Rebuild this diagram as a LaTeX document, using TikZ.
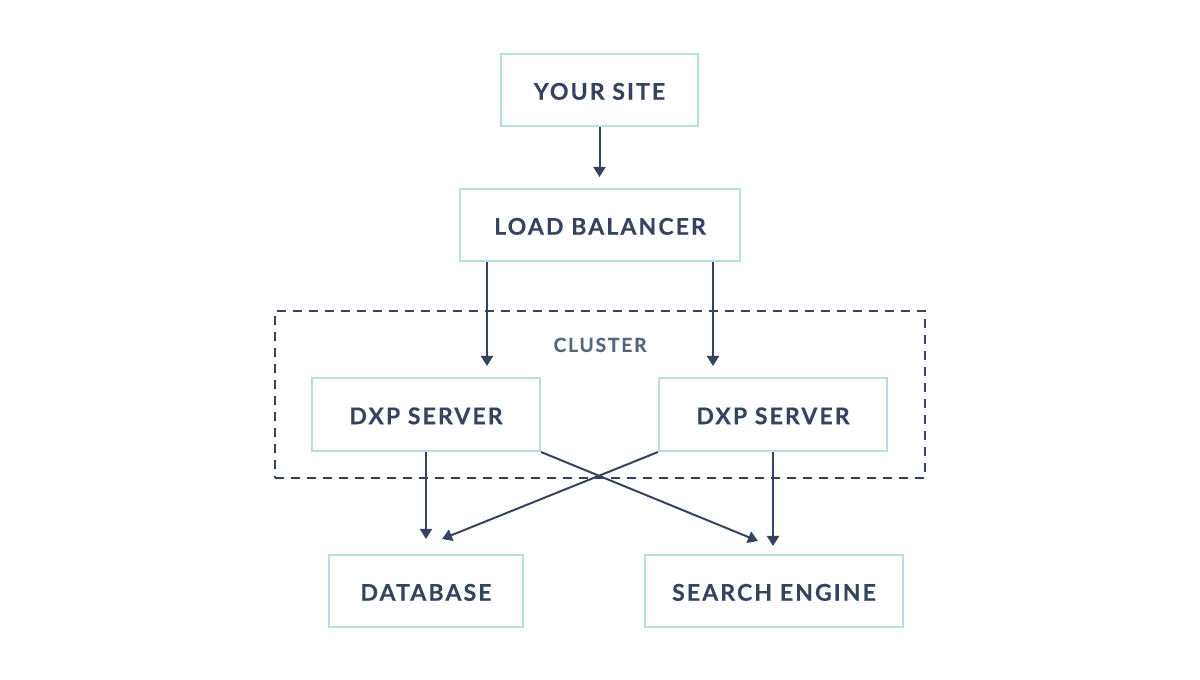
\documentclass[tikz,border=0pt]{standalone}
\usepackage{fontspec}
\setmainfont{Lato}
\newfontfamily\boxfont{Lato}[LetterSpace=9,FakeBold=0.3]
\usetikzlibrary{arrows.meta,calc}
\definecolor{boxline}{HTML}{B8DEE2}
\definecolor{ink}{HTML}{364360}
\definecolor{clus}{HTML}{56677D}
\begin{document}
\begin{tikzpicture}[x=0.75pt,y=-0.75pt,
  box/.style={draw=boxline,line width=1.5pt,fill=white,inner sep=0pt,
    text height=14.6pt,text depth=0pt,
    font=\boxfont\bfseries\fontsize{17.3}{19}\selectfont,text=ink},
  arr/.style={draw=ink,line width=1.5pt,-{Triangle[width=9pt,length=7.5pt]}},
  clusterbox/.style={draw=ink,line width=1.2pt,dash pattern=on 7pt off 5pt}]
\useasboundingbox[fill=white] (0,0) rectangle (1200,680);
\node[box,minimum width=147.75pt,minimum height=54pt] (ys) at (599.5,90) {YOUR SITE};
\node[box,minimum width=210pt,minimum height=54pt] (lb) at (600,225) {LOAD BALANCER};
\node[clusterbox,minimum width=487.5pt,minimum height=125.25pt,inner sep=0pt] (cl) at (600,394.5) {};
\node[font=\boxfont\bfseries\fontsize{14.5}{16}\selectfont,text=clus,text height=10.4pt,text depth=0pt] (cllab) at (600,345) {CLUSTER};
\node[box,minimum width=171pt,minimum height=54.75pt] (dl) at (426,414.5) {DXP SERVER};
\node[box,minimum width=171pt,minimum height=54.75pt] (dr) at (773,414.5) {DXP SERVER};
\node[box,minimum width=145.5pt,minimum height=54pt] (db) at (426,591) {DATABASE};
\node[box,minimum width=193.5pt,minimum height=54pt] (se) at (774,591) {SEARCH ENGINE};
\coordinate (t1) at (599.5,177);
\coordinate (t2) at (487,366);
\coordinate (t3) at (713,366);
\coordinate (t4) at (426,539);
\coordinate (t5) at (442,539);
\coordinate (t6) at (758,541);
\coordinate (t7) at (773,546);
\draw[arr] (ys.south) -- (t1);
\draw[arr] (lb.south -| t2) -- (t2);
\draw[arr] (lb.south -| t3) -- (t3);
\draw[arr] (dl.south) -- (t4);
\draw[arr] (dr.south west) -- (t5);
\draw[arr] (dl.south east) -- (t6);
\draw[arr] (dr.south) -- (t7);
\end{tikzpicture}
\end{document}
